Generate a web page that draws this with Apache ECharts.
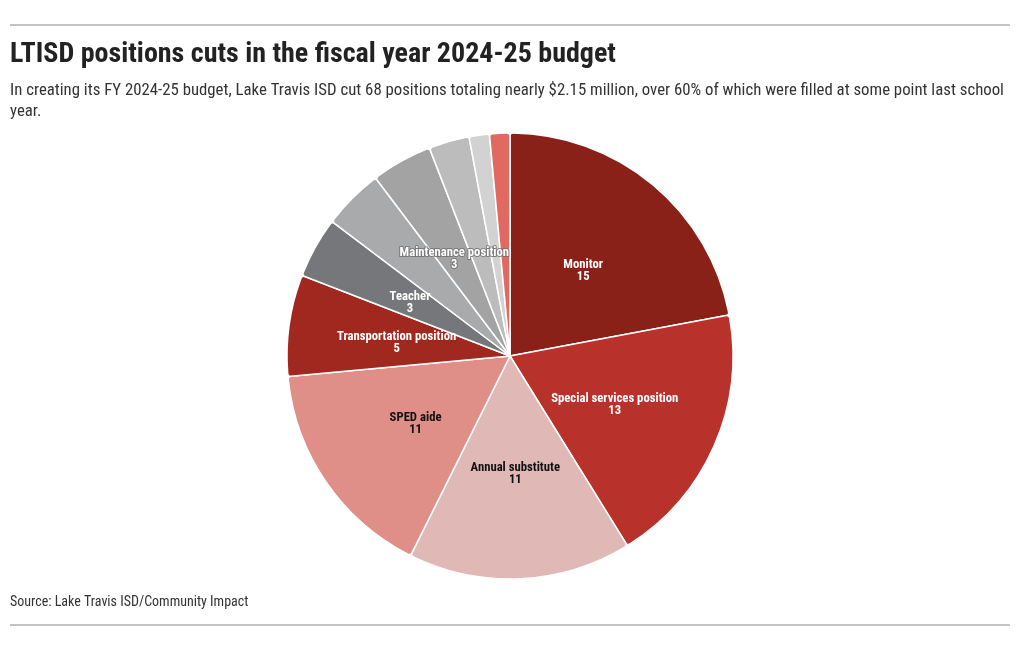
<!DOCTYPE html>
<html>
<head>
<meta charset="utf-8">
<script src="https://cdn.jsdelivr.net/npm/echarts@6/dist/echarts.min.js"></script>
<style>
  html, body { margin: 0; padding: 0; background: #ffffff; }
  #chart { width: 1020px; height: 650px; }
</style>
</head>
<body>
<div id="chart"></div>
<script>
const categories = ['Monitor', 'Special services position', 'Annual substitute', 'SPED aide', 'Transportation position', 'Teacher', 'Other position A', 'Maintenance position', 'Other position B', 'Other position C', 'Other position D'];
const values = [15, 13, 11, 11, 5, 3, 3, 3, 2, 1, 1];
const showLabel = [true, true, true, true, true, true, false, true, false, false, false];
const colors = ['#8a2119', '#b9312b', '#e0b8b6', '#e08e88', '#a0281f', '#76777a', '#a9aaac', '#a3a3a3', '#bcbcbc', '#d2d2d2', '#e06a62'];
const labelColors = ['#ffffff', '#ffffff', '#111111', '#111111', '#ffffff', '#ffffff', '#ffffff', '#ffffff', '#ffffff', '#ffffff', '#ffffff'];

const FONT = '"Liberation Sans Narrow", "Roboto Condensed", Roboto, sans-serif';

const chart = echarts.init(document.getElementById('chart'), null, { renderer: 'canvas' });

const data = categories.map((name, i) => ({
  name: name,
  value: values[i],
  itemStyle: { color: colors[i] },
  label: {
    show: showLabel[i],
    color: labelColors[i],
    textBorderColor: i === 7 ? 'rgba(110,110,110,0.8)' : 'transparent',
    textBorderWidth: i === 7 ? 2 : 0
  }
}));

chart.setOption({
  animation: false,
  graphic: [
    { type: 'line', shape: { x1: 10, y1: 25, x2: 1010, y2: 25 }, style: { stroke: '#888888', lineWidth: 1 } },
    { type: 'line', shape: { x1: 10, y1: 625, x2: 1010, y2: 625 }, style: { stroke: '#888888', lineWidth: 1 } },
    { type: 'text', left: 10, top: 41, style: { text: 'LTISD positions cuts in the fiscal year 2024-25 budget', font: 'bold 28px ' + FONT, fill: '#222222' } },
    { type: 'text', left: 10, top: 80, style: { text: 'In creating its FY 2024-25 budget, Lake Travis ISD cut 68 positions totaling nearly $2.15 million, over 60% of which were filled at some point last school\nyear.', font: '16.8px ' + FONT, fill: '#333333', lineHeight: 21 } },
    { type: 'text', left: 10, top: 595, style: { text: 'Source: Lake Travis ISD/Community Impact', font: '14px ' + FONT, fill: '#333333' } }
  ],
  series: [{
    type: 'pie',
    center: [510, 356],
    radius: [0, 223],
    startAngle: 90,
    clockwise: true,
    avoidLabelOverlap: false,
    itemStyle: { borderColor: '#ffffff', borderWidth: 1.5, borderRadius: 3 },
    label: {
      position: 'inside',
      formatter: '{b}\n{c}',
      fontFamily: FONT,
      fontWeight: 'bold',
      fontSize: 12.7,
      lineHeight: 12,
      align: 'center',
      offset: [0, 3]
    },
    labelLine: { show: false },
    emphasis: { disabled: true },
    data: data
  }]
});
</script>
</body>
</html>
